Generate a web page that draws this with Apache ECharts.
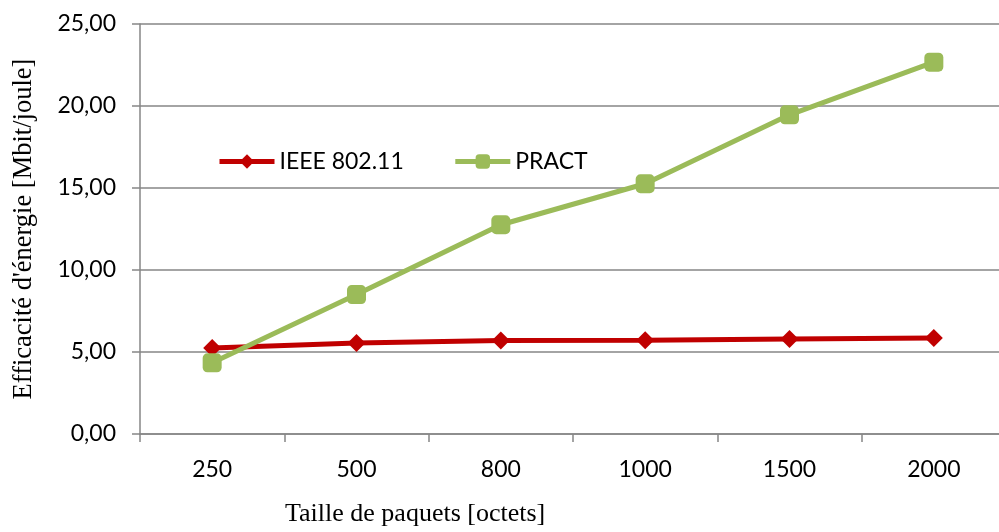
<!DOCTYPE html>
<html><head><meta charset="utf-8">
<script src="https://cdn.jsdelivr.net/npm/echarts@6/dist/echarts.min.js"></script>
<style>html,body{margin:0;padding:0;background:#fff}#c{width:999px;height:532px}</style>
</head><body><div id="c"></div>
<script>
const categories = ['250','500','800','1000','1500','2000'];
const ieee = [5.25, 5.55, 5.70, 5.72, 5.80, 5.86];
const pract = [4.34, 8.50, 12.76, 15.26, 19.46, 22.67];
const chart = echarts.init(document.getElementById('c'));
chart.setOption({
  animation: false,
  grid: {left: 140, right: -7, top: 24, bottom: 98, containLabel: false, outerBoundsMode: 'none'},
  legend: {
    left: 212, top: 145, itemWidth: 55, itemHeight: 18, itemGap: 49,
    textStyle: {fontFamily: 'Lato', fontSize: 23, color: '#000'},
    lineStyle: {width: 5},
    data: ['IEEE 802.11', 'PRACT']
  },
  xAxis: {
    type: 'category', data: categories, boundaryGap: true,
    axisLine: {lineStyle: {color: '#868686', width: 1.5}},
    axisTick: {show: true, length: 8, lineStyle: {color: '#868686', width: 1.5}},
    axisLabel: {fontFamily: 'Lato', fontSize: 23, color: '#000', margin: 24}
  },
  yAxis: {
    type: 'value', min: 0, max: 25, interval: 5,
    name: "Efficacité d'énergie [Mbit/joule]", nameLocation: 'middle', nameGap: 102,
    nameTextStyle: {fontFamily: 'Liberation Serif', fontSize: 26.5, color: '#000'},
    axisLine: {show: true, lineStyle: {color: '#868686', width: 1.5}},
    axisTick: {show: true, length: 8, lineStyle: {color: '#868686', width: 1.5}},
    splitLine: {lineStyle: {color: '#868686', width: 1.5}},
    axisLabel: {fontFamily: 'Lato', fontSize: 23, color: '#000', margin: 24,
      formatter: v => v.toFixed(2).replace('.', ',')}
  },
  graphic: [{type: 'text', left: 285, top: 501,
    style: {text: 'Taille de paquets [octets]', font: '26px "Liberation Serif"', fill: '#000'}}],
  series: [
    {name: 'IEEE 802.11', type: 'line', data: ieee, symbol: 'diamond', symbolSize: 18,
     lineStyle: {color: '#C00000', width: 5}, itemStyle: {color: '#C00000'}},
    {name: 'PRACT', type: 'line', data: pract, symbol: 'roundRect', symbolSize: 19,
     lineStyle: {color: '#9BBB59', width: 5}, itemStyle: {color: '#9BBB59'}}
  ]
});
</script></body></html>
